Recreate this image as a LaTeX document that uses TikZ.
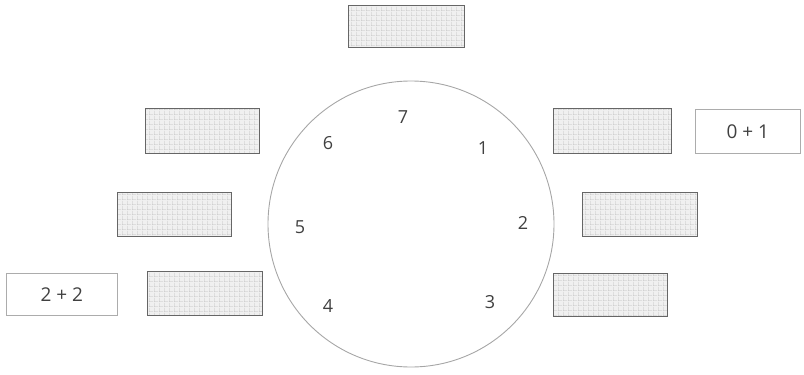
\documentclass[tikz,border=0pt]{standalone}
\usepackage{fontspec}
\setmainfont{Open Sans}
\usetikzlibrary{patterns}
\pgfdeclarepatternformonly{wgrid}{\pgfpointorigin}{\pgfpoint{4.5pt}{4.5pt}}{\pgfpoint{4.5pt}{4.5pt}}{%
  \pgfsetlinewidth{0.6pt}%
  \pgfpathmoveto{\pgfpointorigin}\pgfpathlineto{\pgfpoint{4.5pt}{0pt}}%
  \pgfpathmoveto{\pgfpointorigin}\pgfpathlineto{\pgfpoint{0pt}{4.5pt}}%
  \pgfusepath{stroke}}
\begin{document}
\begin{tikzpicture}[x=1pt,y=-1pt,
  hatchbox/.style={draw=black!60, line width=1.2pt,
    preaction={fill=gray!12},
    preaction={pattern=wgrid, pattern color=gray!50},
    inner sep=0pt, anchor=north west},
  sumbox/.style={draw=gray!65, line width=0.6pt, inner sep=0pt, anchor=north west,
    font=\fontsize{19}{22}\selectfont, text=black!75},
  digit/.style={font=\fontsize{18}{22}\selectfont, text=black!75, inner sep=0pt}]
\useasboundingbox (0,0) rectangle (804,375);
% circle
\node[circle, draw=gray!70, line width=0.9pt, minimum size=286pt, inner sep=0pt] (ring) at (411,224) {};
% hatched boxes
\node[hatchbox, minimum width=116pt, minimum height=42pt] (top) at (348,5) {};
\node[hatchbox, minimum width=118pt, minimum height=45pt] (r1) at (553,108) {};
\node[hatchbox, minimum width=115pt, minimum height=44pt] (r2) at (582,192) {};
\node[hatchbox, minimum width=114pt, minimum height=43pt] (r3) at (553,273) {};
\node[hatchbox, minimum width=114pt, minimum height=45pt] (l1) at (145,108) {};
\node[hatchbox, minimum width=114pt, minimum height=44pt] (l2) at (117,192) {};
\node[hatchbox, minimum width=115pt, minimum height=44pt] (l3) at (147,271) {};
% sum boxes
\node[sumbox, minimum width=105pt, minimum height=44pt] (s01) at (695,109) {0 + 1};
\node[sumbox, minimum width=111pt, minimum height=42pt] (s22) at (6,273) {2 + 2};
% digits
\node[digit] (d7) at (403,117) {7};
\node[digit] (d6) at (328,143) {6};
\node[digit] (d1) at (483,148) {1};
\node[digit] (d5) at (300,227) {5};
\node[digit] (d2) at (523,223) {2};
\node[digit] (d4) at (328,306) {4};
\node[digit] (d3) at (490,302) {3};
\end{tikzpicture}
\end{document}
